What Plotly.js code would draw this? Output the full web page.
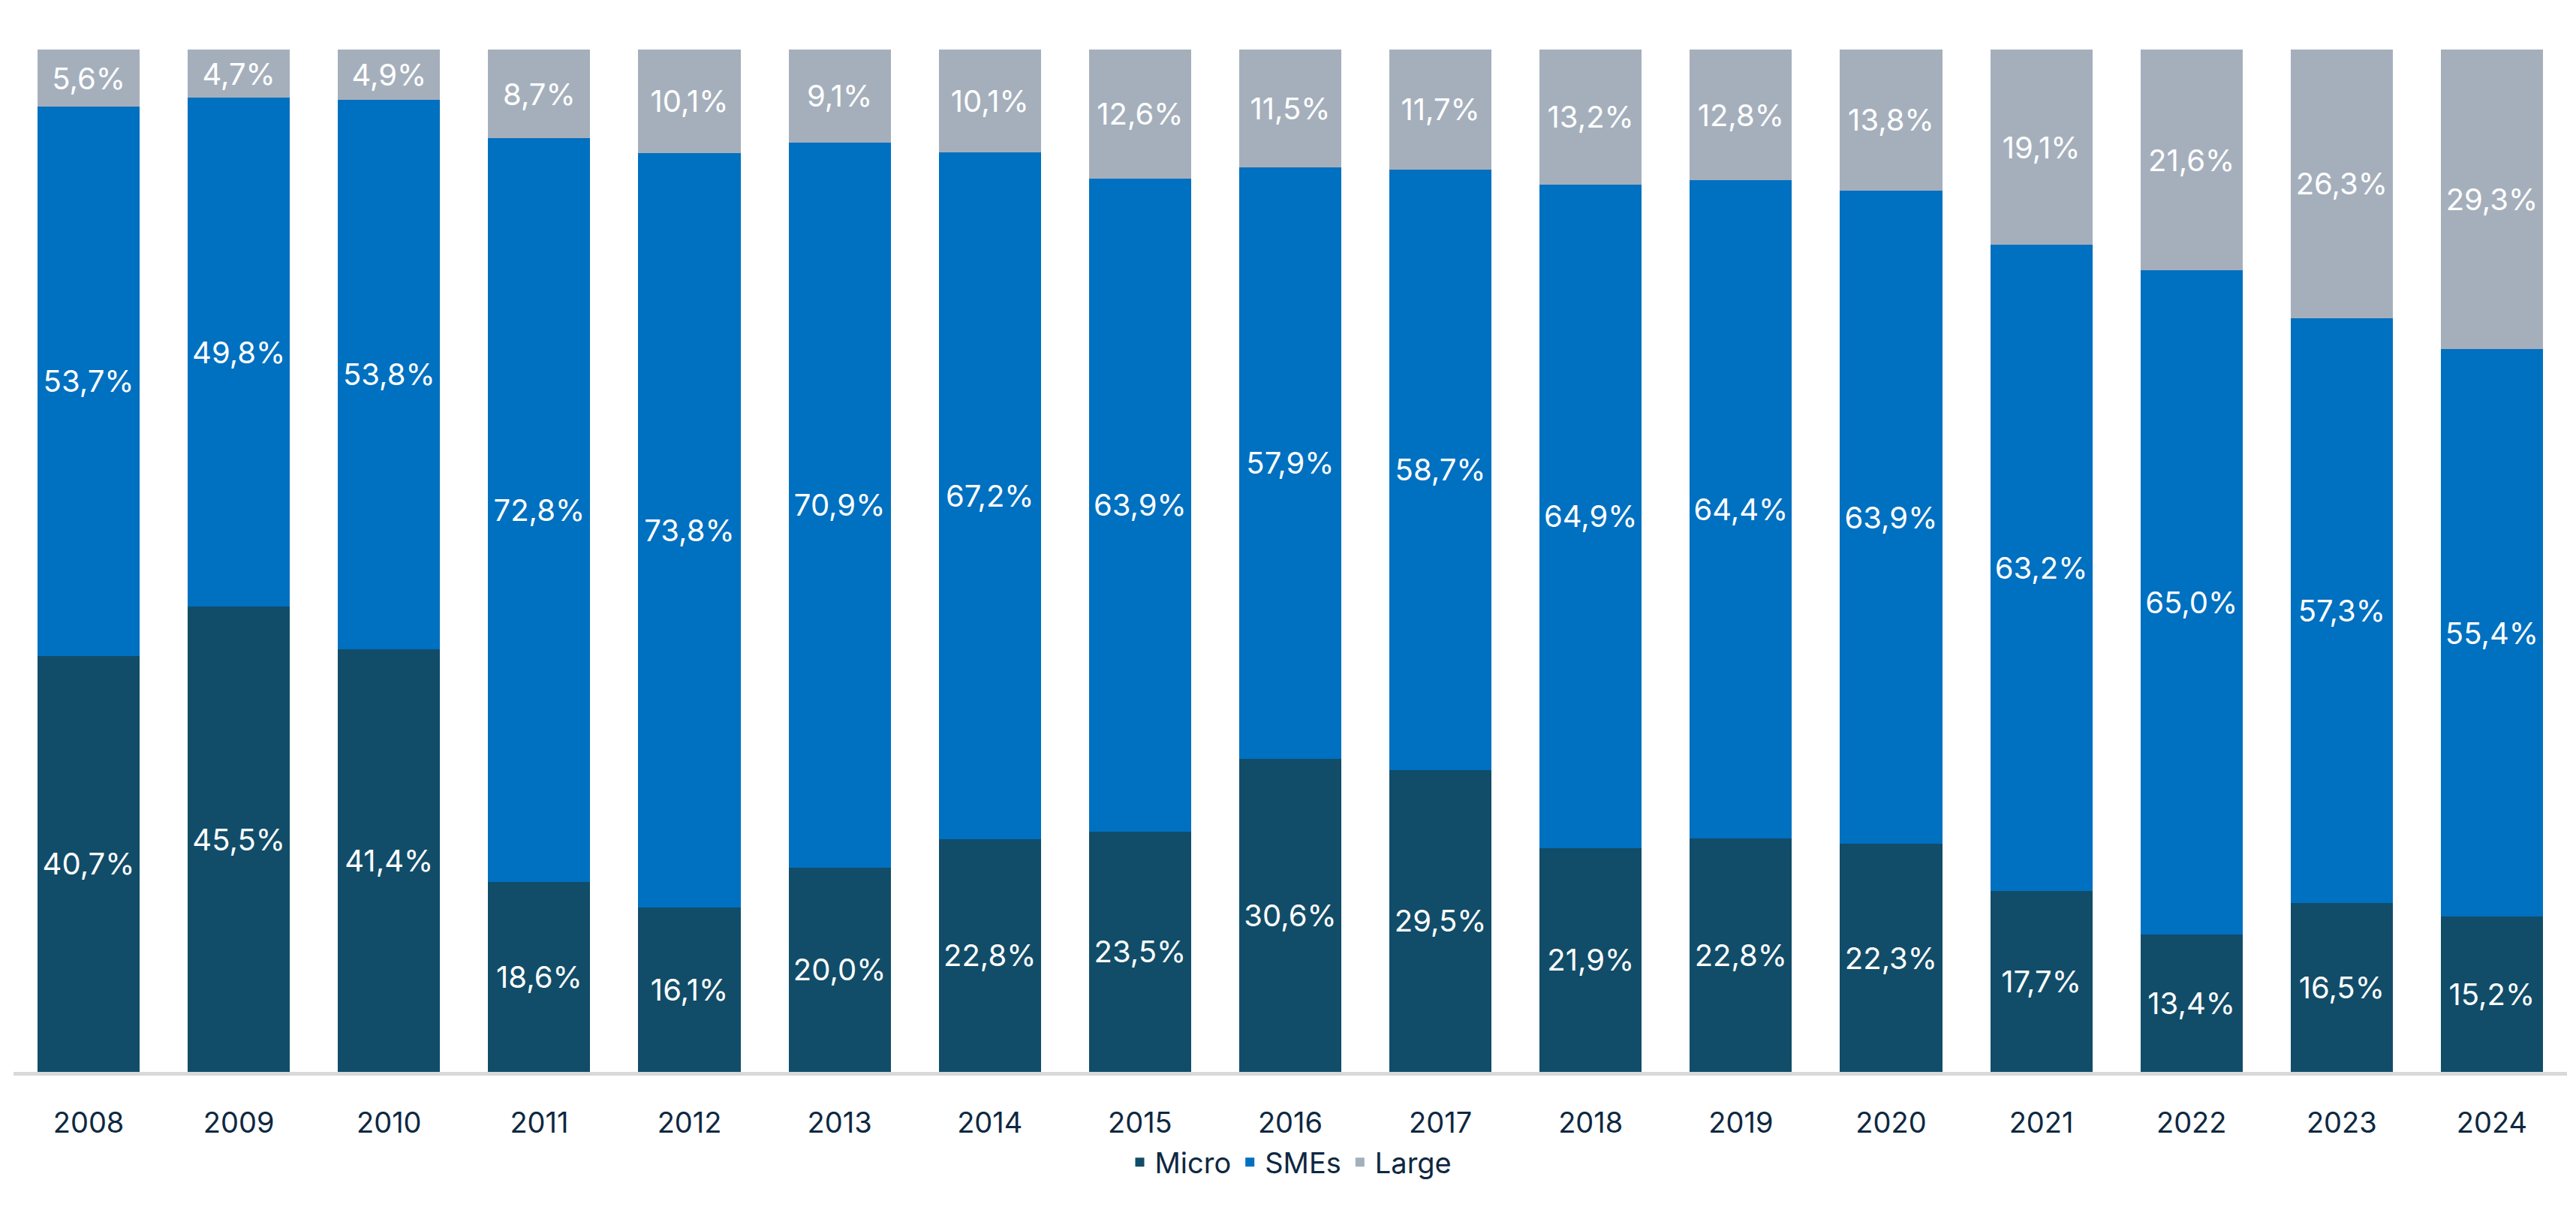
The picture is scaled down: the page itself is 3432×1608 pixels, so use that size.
<!DOCTYPE html>
<html>
<head>
<meta charset="utf-8">
<script src="https://cdn.plot.ly/plotly-3.0.1.min.js"></script>
<style>html,body{margin:0;padding:0;background:#fff}#plot{width:3432px;height:1608px}</style>
</head>
<body>
<div id="plot"></div>
<script>
var years = ['2008','2009','2010','2011','2012','2013','2014','2015','2016','2017','2018','2019','2020','2021','2022','2023','2024'];
var micro = [40.7,45.5,41.4,18.6,16.1,20.0,22.8,23.5,30.6,29.5,21.9,22.8,22.3,17.7,13.4,16.5,15.2];
var smes  = [53.7,49.8,53.8,72.8,73.8,70.9,67.2,63.9,57.9,58.7,64.9,64.4,63.9,63.2,65.0,57.3,55.4];
var large = [5.6,4.7,4.9,8.7,10.1,9.1,10.1,12.6,11.5,11.7,13.2,12.8,13.8,19.1,21.6,26.3,29.3];

function fmt(v) { return v.toFixed(1).replace('.', ',') + '%'; }

function series(name, vals, color) {
  return {
    type: 'bar', name: name, x: years, y: vals,
    marker: {color: color},
    text: vals.map(fmt), textposition: 'inside', insidetextanchor: 'middle',
    textangle: 0, constraintext: 'none',
    textfont: {color: '#ffffff', size: 40, family: 'Inter, sans-serif'},
    hoverinfo: 'none'
  };
}

var data = [
  series('Micro', micro, '#114d69'),
  series('SMEs', smes, '#0070c0'),
  series('Large', large, '#a5afbc')
];

var layout = {
  barmode: 'stack', barnorm: 'percent', bargap: 0.32,
  width: 3432, height: 1608,
  margin: {l: 18, r: 12, t: 66, b: 180},
  paper_bgcolor: '#fff', plot_bgcolor: '#fff',
  font: {family: 'Inter, sans-serif', color: '#0e2841', size: 38},
  xaxis: {type: 'category', dtick: 1, showline: true, linecolor: '#d9d9d9', linewidth: 5, ticks: '',
          tickfont: {size: 38, color: '#0e2841'}, ticklabelstandoff: 30, automargin: false},
  yaxis: {visible: false, range: [0, 100]},
  showlegend: true,
  legend: {orientation: 'h', traceorder: 'normal', x: 0.5, xanchor: 'center',
           yref: 'container', y: 0.037, yanchor: 'middle',
           font: {size: 38, color: '#0e2841'}, itemwidth: 30}
};

Plotly.newPlot('plot', data, layout, {staticPlot: true});
</script>
</body>
</html>
